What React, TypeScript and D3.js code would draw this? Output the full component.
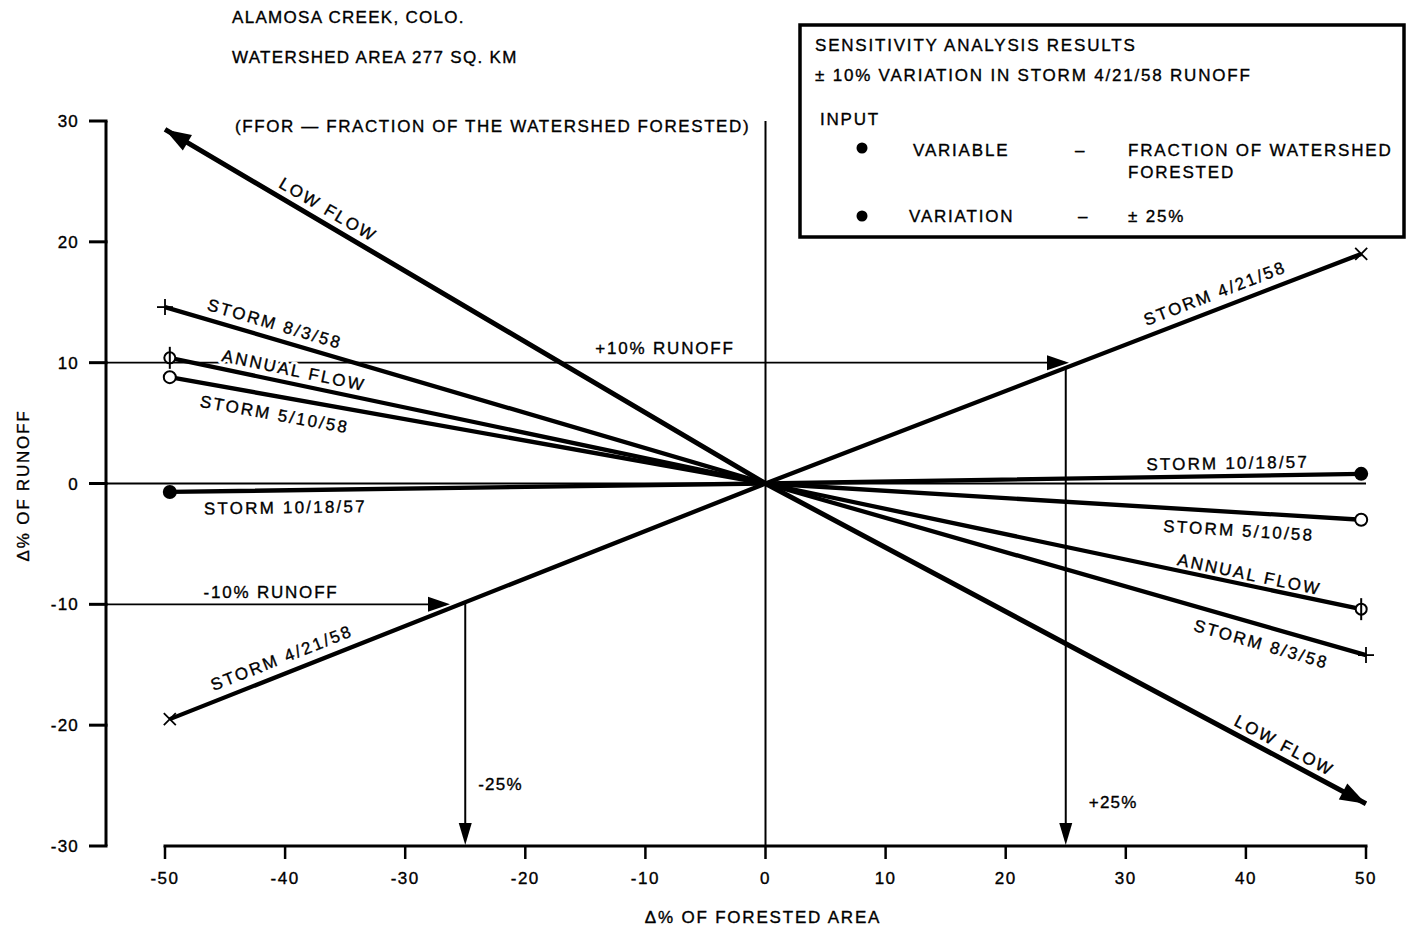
import React from 'react';
import * as d3 from 'd3';

const W = 1411;
const H = 932;

// Axis ticks
const xTicks = [-50, -40, -30, -20, -10, 0, 10, 20, 30, 40, 50];
const yTicks = [30, 20, 10, 0, -10, -20, -30];

// Series: x positions (Δ% forested area) and y values (Δ% runoff)
const seriesNames = ['LOW FLOW', 'STORM 8/3/58', 'ANNUAL FLOW', 'STORM 5/10/58', 'STORM 10/18/57', 'STORM 4/21/58'];
const lowFlowX = [-50, 0, 50];
const lowFlowY = [29.3, 0, -26.5];
const storm8358X = [-50, 0, 50];
const storm8358Y = [14.6, 0, -14.2];
const annualFlowX = [-49.6, 0, 49.6];
const annualFlowY = [10.4, 0, -10.4];
const storm51058X = [-49.6, 0, 49.6];
const storm51058Y = [8.8, 0, -3.0];
const storm101857X = [-49.6, 0, 49.6];
const storm101857Y = [-0.7, 0, 0.8];
const storm42158X = [-49.6, 0, 49.6];
const storm42158Y = [-19.5, 0, 19.0];
const seriesXs = [lowFlowX, storm8358X, annualFlowX, storm51058X, storm101857X, storm42158X];
const seriesYs = [lowFlowY, storm8358Y, annualFlowY, storm51058Y, storm101857Y, storm42158Y];
const seriesMarkers = ['arrow', 'plus', 'phi', 'circle', 'dot', 'cross'];

// Line labels: series index, side (0 = left segment, 1 = right segment), x position, offset
const labelSeries = [0, 0, 1, 1, 2, 2, 3, 3, 4, 4, 5, 5];
const labelSide = [0, 1, 0, 1, 0, 1, 0, 1, 0, 1, 0, 1];
const labelAtX = [-37, 42.7, -41.2, 41.7, -39.5, 40.1, -40.6, 39.5, -40, 38.5, -39.8, 37.9];
const labelOffset = [-14, -13, -15, 18, -13.5, -11, 18, 18, 17, -13, -16, -16];

// Sensitivity guide arrows
const runoffLevels = [10, -10];
const forestChanges = [25, -25];
const runoffLabels = ['+10% RUNOFF', '-10% RUNOFF'];
const forestLabels = ['+25%', '-25%'];

const titleLines = ['ALAMOSA CREEK, COLO.', 'WATERSHED AREA 277 SQ. KM'];
const subtitle = '(FFOR \u2014 FRACTION OF THE WATERSHED FORESTED)';

const FONT = '"Liberation Sans", Arial, Helvetica, sans-serif';

const xScale = d3.scaleLinear().domain([-50, 50]).range([165, 1366]);
const yScale = d3.scaleLinear().domain([-30, 30]).range([846, 121]);
const yAxisX = 106;

function Marker({ type, x, y, dir }: { type: string; x: number; y: number; dir: number }) {
  const k = '#000';
  if (type === 'plus') {
    return (
      <g stroke={k} strokeWidth={1.8}>
        <line x1={x - 8} y1={y} x2={x + 8} y2={y} />
        <line x1={x} y1={y - 8} x2={x} y2={y + 8} />
      </g>
    );
  }
  if (type === 'cross') {
    return (
      <g stroke={k} strokeWidth={1.8}>
        <line x1={x - 6} y1={y - 6} x2={x + 6} y2={y + 6} />
        <line x1={x - 6} y1={y + 6} x2={x + 6} y2={y - 6} />
      </g>
    );
  }
  if (type === 'phi') {
    return (
      <g stroke={k} strokeWidth={2}>
        <circle cx={x} cy={y} r={5.5} fill="#fff" />
        <line x1={x} y1={y - 11} x2={x} y2={y + 11} />
      </g>
    );
  }
  if (type === 'circle') {
    return <circle cx={x} cy={y} r={6} fill="#fff" stroke={k} strokeWidth={2} />;
  }
  if (type === 'dot') {
    return <circle cx={x} cy={y} r={7} fill={k} />;
  }
  const len = 26;
  const hw = 9;
  const bx = x - len * Math.cos(dir);
  const by = y - len * Math.sin(dir);
  const nx = -Math.sin(dir);
  const ny = Math.cos(dir);
  const pts = `${x},${y} ${bx + nx * hw},${by + ny * hw} ${bx - nx * hw},${by - ny * hw}`;
  return <polygon points={pts} fill={k} />;
}

function ArrowHead({ x, y, dir, len = 20, hw = 6 }: { x: number; y: number; dir: number; len?: number; hw?: number }) {
  const bx = x - len * Math.cos(dir);
  const by = y - len * Math.sin(dir);
  const nx = -Math.sin(dir);
  const ny = Math.cos(dir);
  return <polygon points={`${x},${y} ${bx + nx * hw},${by + ny * hw} ${bx - nx * hw},${by - ny * hw}`} fill="#000" />;
}

export default function App() {
  const line = d3
    .line<[number, number]>()
    .x((d) => xScale(d[0]))
    .y((d) => yScale(d[1]));

  const textStyle = {
    fontFamily: FONT,
    fontSize: 17,
    letterSpacing: 1.8,
    fill: '#000',
    stroke: '#000',
    strokeWidth: 0.35,
  } as const;

  const sx = storm42158X;
  const sy = storm42158Y;
  const guides = runoffLevels.map((lvl, i) => {
    const endIdx = lvl > 0 ? 2 : 0;
    const xInt = (sx[endIdx] * lvl) / sy[endIdx];
    const tipX = xScale(xInt) - 10;
    const fc = forestChanges[i];
    const yAtFc = (sy[endIdx] * fc) / sx[endIdx];
    return { lvl, tipX, fc, yAtFc, i };
  });

  const labelGeom = labelSeries.map((si, k) => {
    const a = labelSide[k] === 0 ? 0 : 1;
    const b = a + 1;
    const xs = seriesXs[si];
    const ys = seriesYs[si];
    const x0 = xScale(xs[a]);
    const y0 = yScale(ys[a]);
    const x1 = xScale(xs[b]);
    const y1 = yScale(ys[b]);
    const px = xScale(labelAtX[k]);
    const t = (px - x0) / (x1 - x0);
    const py = y0 + t * (y1 - y0);
    const ang = (Math.atan2(y1 - y0, x1 - x0) * 180) / Math.PI;
    return { si, k, px, py, ang };
  });

  return (
    <svg width={W} height={H} style={{ position: 'absolute', left: 0, top: 0, background: '#fff' }}>
      <rect x={0} y={0} width={W} height={H} fill="#fff" />

      {/* Titles */}
      <text x={232} y={23} {...textStyle} letterSpacing={1.3}>{titleLines[0]}</text>
      <text x={232} y={63} {...textStyle} letterSpacing={1.3}>{titleLines[1]}</text>
      <text x={235} y={132} {...textStyle} letterSpacing={1.6}>{subtitle}</text>

      {/* Y axis */}
      <line x1={yAxisX} y1={yScale(30)} x2={yAxisX} y2={yScale(-30)} stroke="#000" strokeWidth={3} />
      {yTicks.map((t) => (
        <g key={t}>
          <line x1={89} y1={yScale(t)} x2={yAxisX + 1.5} y2={yScale(t)} stroke="#000" strokeWidth={3} />
          <text x={79} y={yScale(t) + 6} textAnchor="end" {...textStyle} letterSpacing={1.2}>{t}</text>
        </g>
      ))}
      <text
        transform={`translate(29,${yScale(0) + 2}) rotate(-90)`}
        textAnchor="middle"
        {...textStyle}
      >
        {'\u0394% OF RUNOFF'}
      </text>

      {/* X axis */}
      <line x1={xScale(-50) - 1.5} y1={yScale(-30)} x2={xScale(50) + 1.5} y2={yScale(-30)} stroke="#000" strokeWidth={3} />
      {xTicks.map((t) => (
        <g key={t}>
          <line x1={xScale(t)} y1={yScale(-30)} x2={xScale(t)} y2={yScale(-30) + 13} stroke="#000" strokeWidth={2.5} />
          <text x={xScale(t)} y={884} textAnchor="middle" {...textStyle} letterSpacing={1.5}>{t}</text>
        </g>
      ))}
      <text x={763} y={923} textAnchor="middle" {...textStyle}>{'\u0394% OF FORESTED AREA'}</text>

      {/* Zero lines */}
      <line x1={yAxisX} y1={yScale(0)} x2={xScale(50)} y2={yScale(0)} stroke="#000" strokeWidth={2} />
      <line x1={xScale(0)} y1={yScale(30)} x2={xScale(0)} y2={yScale(-30)} stroke="#000" strokeWidth={2} />

      {/* Guide arrows */}
      {guides.map((g) => (
        <g key={g.i}>
          <line x1={yAxisX} y1={yScale(g.lvl)} x2={g.tipX - 4} y2={yScale(g.lvl)} stroke="#000" strokeWidth={1.8} />
          <ArrowHead x={g.tipX} y={yScale(g.lvl)} dir={0} len={22} hw={7.5} />
          <line x1={xScale(g.fc)} y1={yScale(g.yAtFc)} x2={xScale(g.fc)} y2={yScale(-30) - 8} stroke="#000" strokeWidth={2} />
          <ArrowHead x={xScale(g.fc)} y={yScale(-30) - 1} dir={Math.PI / 2} len={22} hw={6.5} />
        </g>
      ))}
      <text x={665} y={354} textAnchor="middle" {...textStyle}>{runoffLabels[0]}</text>
      <text x={271} y={598} textAnchor="middle" {...textStyle}>{runoffLabels[1]}</text>
      <text x={xScale(forestChanges[0]) + 23} y={808} {...textStyle} letterSpacing={1.2}>{forestLabels[0]}</text>
      <text x={xScale(forestChanges[1]) + 13} y={790} {...textStyle} letterSpacing={1.2}>{forestLabels[1]}</text>

      {/* Line label halos (mask guide lines behind labels) */}
      {labelGeom.map((g) => (
        <text
          key={'h' + g.k}
          transform={`translate(${g.px},${g.py}) rotate(${g.ang})`}
          y={labelOffset[g.k] + 6}
          textAnchor="middle"
          fontFamily={FONT}
          fontSize={17}
          letterSpacing={2.2}
          fill="#fff"
          stroke="#fff"
          strokeWidth={6}
          strokeLinejoin="round"
        >
          {seriesNames[g.si]}
        </text>
      ))}

      {/* Series lines */}
      {seriesNames.map((name, i) => {
        const pts = seriesXs[i].map((x, j) => [x, seriesYs[i][j]] as [number, number]);
        return (
          <path
            key={name}
            d={line(pts) || ''}
            fill="none"
            stroke="#000"
            strokeWidth={i === 0 ? 5 : 4.3}
            strokeLinejoin="miter"
          />
        );
      })}

      {/* Markers */}
      {seriesNames.map((name, i) => {
        const xs = seriesXs[i];
        const ys = seriesYs[i];
        return [0, 2].map((e) => {
          const px = xScale(xs[e]);
          const py = yScale(ys[e]);
          const cx = xScale(xs[1]);
          const cy = yScale(ys[1]);
          const dir = Math.atan2(py - cy, px - cx);
          return <Marker key={name + e} type={seriesMarkers[i]} x={px} y={py} dir={dir} />;
        });
      })}

      {/* Line labels */}
      {labelGeom.map((g) => (
        <text
          key={g.k}
          transform={`translate(${g.px},${g.py}) rotate(${g.ang})`}
          y={labelOffset[g.k] + 6}
          textAnchor="middle"
          {...textStyle}
          letterSpacing={2.2}
        >
          {seriesNames[g.si]}
        </text>
      ))}

      {/* Legend box */}
      <rect x={800} y={25} width={604} height={212} fill="#fff" stroke="#000" strokeWidth={3.5} />
      <text x={815} y={51} {...textStyle}>SENSITIVITY ANALYSIS RESULTS</text>
      <text x={815} y={81} {...textStyle}>{'\u00B1 10% VARIATION  IN STORM 4/21/58 RUNOFF'}</text>
      <text x={820} y={125} {...textStyle}>INPUT</text>
      <circle cx={862} cy={148} r={5.5} fill="#000" />
      <text x={913} y={156} {...textStyle}>VARIABLE</text>
      <text x={1075} y={156} {...textStyle}>{'\u2013'}</text>
      <text x={1128} y={156} {...textStyle}>FRACTION OF WATERSHED</text>
      <text x={1128} y={178} {...textStyle}>FORESTED</text>
      <circle cx={862} cy={216} r={5.5} fill="#000" />
      <text x={909} y={222} {...textStyle}>VARIATION</text>
      <text x={1078} y={222} {...textStyle}>{'\u2013'}</text>
      <text x={1128} y={222} {...textStyle}>{'\u00B1 25%'}</text>
    </svg>
  );
}
